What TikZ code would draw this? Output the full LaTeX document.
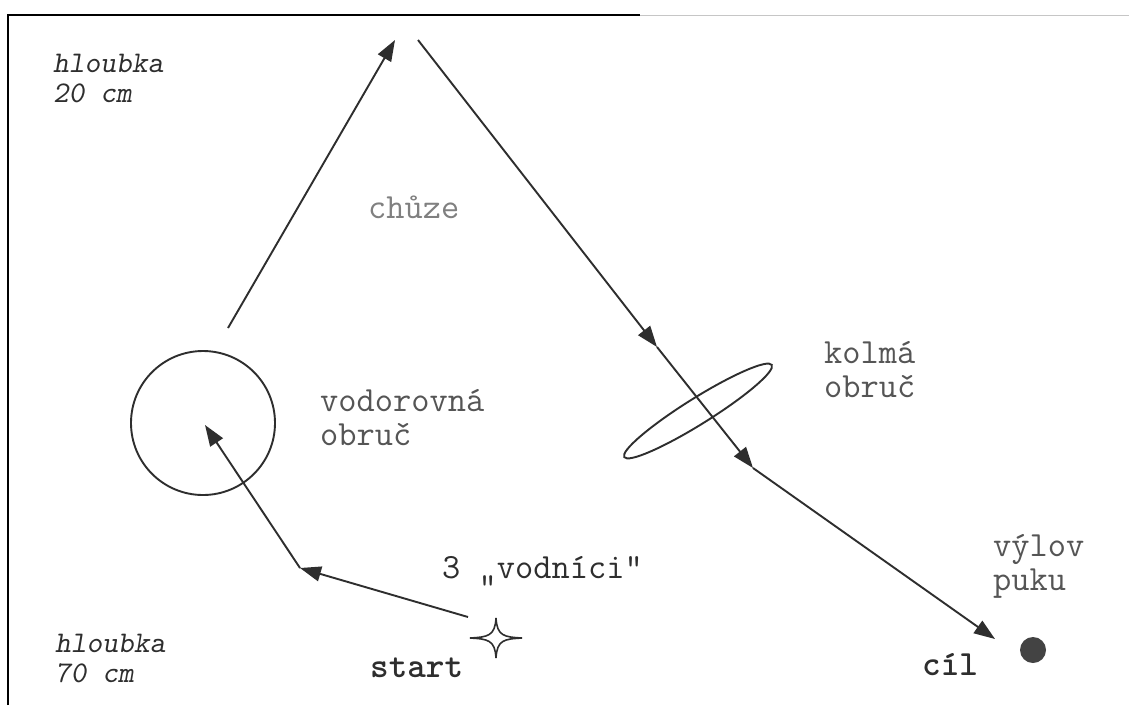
\documentclass[tikz,border=0pt]{standalone}
\usepackage{fontspec}
\usetikzlibrary{arrows.meta}
\definecolor{ink}{HTML}{2E2E2E}
\definecolor{labelgrey}{HTML}{555555}
\tikzset{
  path line/.style={draw=ink, line width=1.9pt},
  path arrow/.style={path line, -{Triangle[length=21pt,width=15pt]}},
  big label/.style={anchor=base west, inner sep=0pt, align=left,
    font=\ttfamily\fontsize{35.4}{34}\selectfont},
  depth label/.style={anchor=base west, inner sep=0pt, align=left, text=ink,
    font=\ttfamily\slshape\fontsize{30}{30}\selectfont},
  bold label/.style={anchor=base west, inner sep=0pt, text=ink,
    font=\ttfamily\bfseries\fontsize{35.4}{34}\selectfont},
}
\begin{document}
\begin{tikzpicture}[x=1pt, y=-1pt]
\useasboundingbox (0,0) rectangle (1129,705);
\fill[white] (0,0) rectangle (1129,705);

% page frame
\draw[black, line width=1.3pt] (8,705) -- (8,15) -- (640,15);
\draw[gray!45, line width=1pt] (640,15) -- (1129,15);

% route points
\coordinate (start) at (496,638);
\coordinate (turn)  at (300,568);
\coordinate (hoopin) at (205,425);
\coordinate (upfrom) at (228,328);
\coordinate (peak)  at (395,40);
\coordinate (down)  at (418,40);
\coordinate (mid)   at (657,347);
\coordinate (bend)  at (753,468);
\coordinate (goal)  at (995,639);

% hoops and puck
\node[circle, draw=ink, line width=1.9pt, minimum size=144pt, inner sep=0pt] (hhoop) at (203,423) {};
\draw[ink, line width=1.9pt, rotate around={32:(698,411)}] (698,411) ellipse (87pt and 13pt);
\node[circle, fill=ink!90, minimum size=26pt, inner sep=0pt] (puck) at (1033,650) {};

% start star
\filldraw[draw=ink, fill=white, line width=1.6pt]
  (start) ++(-26,0) .. controls +(18,-1) and +(-1,18) .. ++(26,-20)
          .. controls +(1,18) and +(-18,-1) .. ++(26,20)
          .. controls +(-18,1) and +(1,-18) .. ++(-26,20)
          .. controls +(-1,-18) and +(18,1) .. ++(-26,-20) -- cycle;

% route
\coordinate (startarm) at (468,617);
\draw[path arrow] (startarm) -- (turn);
\draw[path arrow] (turn) -- (hoopin);
\draw[path arrow] (upfrom) -- (peak);
\draw[path arrow] (down) -- (mid);
\draw[path arrow] (mid) -- (bend);
\draw[path arrow] (bend) -- (goal);

% labels (a two-line label sits on the baseline of its last line)
\node[depth label] (deep1) at (53,102) {hloubka\\20 cm};
\node[depth label] (deep2) at (55,682) {hloubka\\70 cm};
\node[big label, text=labelgrey!75] (walk) at (368,218) {chůze};
\node[big label, text=labelgrey] (hlab) at (320,445) {vodorovná\\obruč};
\node[big label, text=labelgrey] (vlab) at (824,397) {kolmá\\obruč};
\node[big label, text=ink] (swim) at (442,578) {3 „vodníci“};
\node[big label, text=labelgrey] (catch) at (993,590) {výlov\\puku};
\node[bold label] (slab) at (370,677) {start};
\node[bold label] (clab) at (922,675) {cíl};
\end{tikzpicture}
\end{document}
